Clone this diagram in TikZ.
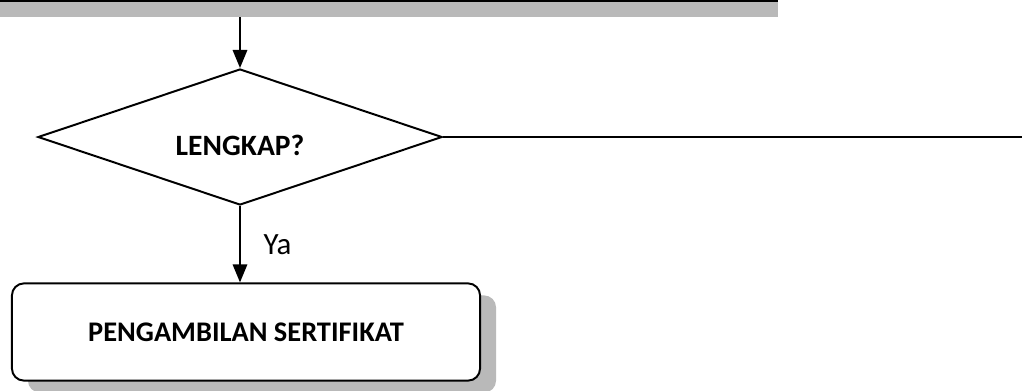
\documentclass[tikz,border=0pt]{standalone}
\usepackage{fontspec}
\setmainfont{Carlito}
\usetikzlibrary{positioning}
\usetikzlibrary{shapes.geometric}
\usetikzlibrary{arrows.meta}
\usetikzlibrary{shadows}

\tikzset{
  flow/.style={line width=1.4pt, -{Triangle[length=0.45cm, width=0.36cm]}},
  decision/.style={diamond, draw, line width=1.4pt, inner sep=0pt,
    minimum width=10.1cm, minimum height=3.4cm},
  process/.style={rectangle, draw, line width=1.4pt, rounded corners=0.3cm, fill=white,
    minimum width=11.7cm, minimum height=2.43cm, font=\fontsize{20.2}{24}\selectfont\bfseries,
    general shadow={fill=gray!55, shadow xshift=0.4cm, shadow yshift=-0.3cm}},
  boldtext/.style={font=\fontsize{21}{25}\selectfont\bfseries},
  note/.style={font=\fontsize{22}{26}\selectfont}
}

\begin{document}
\begin{tikzpicture}[x=0.025cm, y=-0.025cm]
  \useasboundingbox (0,0) rectangle (1022,390);
  % shadow of the box above
  \fill[gray!55] (0,0) rectangle (778,17);
  \draw[line width=1.6pt] (0,1) -- (778,1);
  \coordinate (above) at (240,17);

  \node[decision, label={[boldtext, yshift=-0.2cm]center:LENGKAP?}] (lengkap) at (240,137) {};
  \coordinate (tidak) at (1022,137);
  \node[process] (ambil) at (246,332) {PENGAMBILAN SERTIFIKAT};

  \draw[flow] (above) -- (lengkap.north);
  \draw[line width=1.4pt] (lengkap.east) -- (tidak);
  \draw[flow] (lengkap.south) -- (ambil.north -| lengkap.south)
    node[note, midway, right=0.45cm] (ya) {Ya};
\end{tikzpicture}
\end{document}
